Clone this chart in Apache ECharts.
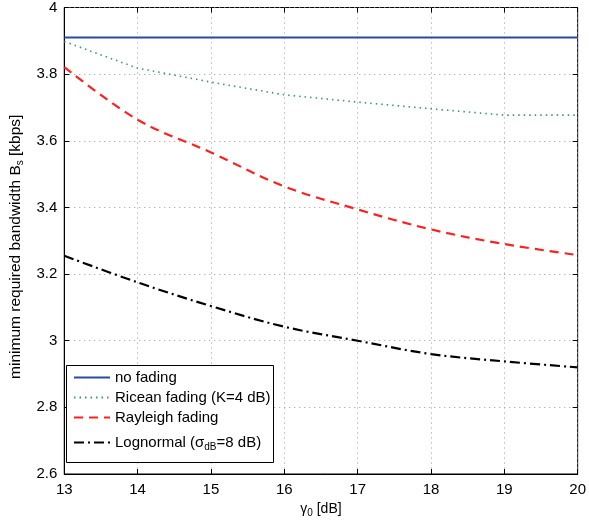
<!DOCTYPE html>
<html><head><meta charset="utf-8">
<script src="https://cdn.jsdelivr.net/npm/echarts@6/dist/echarts.min.js"></script>
<style>html,body{margin:0;padding:0;background:#fff}#c{width:589px;height:524px}</style>
</head><body><div id="c"></div>
<script>
const gammaDb = [13, 14, 15, 16, 17, 18, 19, 20];
const noFading = [3.91, 3.91, 3.91, 3.91, 3.91, 3.91, 3.91, 3.91];
const ricean = [3.898, 3.818, 3.776, 3.738, 3.716, 3.696, 3.677, 3.677];
const rayleigh = [3.821, 3.663, 3.565, 3.463, 3.394, 3.334, 3.29, 3.257];
const lognormal = [3.255, 3.175, 3.104, 3.042, 3.0, 2.96, 2.938, 2.92];
const seriesNames = ['no fading', 'Ricean fading (K=4 dB)', 'Rayleigh fading', 'Lognormal'];

const pairs = a => gammaDb.map((x, i) => [x, a[i]]);
const font = 'Liberation Sans, Arial, Helvetica, sans-serif';
const chart = echarts.init(document.getElementById('c'), null, {renderer: 'canvas'});
const gridLine = {show: true, lineStyle: {color: '#9a9a9a', type: [1, 4], width: 1}};
const legendText = {fontFamily: font, fontSize: 15, color: '#000',
  rich: {t: {fontFamily: font, fontSize: 15, color: '#000'}, sub: {fontFamily: font, fontSize: 10, color: '#000', padding: [9, 0, 0, 0]}}};
const legendCommon = {orient: 'vertical', left: 73, itemWidth: 36, itemHeight: 15, padding: 0, z: 5,
  itemStyle: {opacity: 0}, textStyle: legendText};
chart.setOption({
  animation: false,
  backgroundColor: '#fff',
  grid: {left: 59, right: 9, top: 5, bottom: 50, show: true, borderColor: '#000', borderWidth: 1},
  graphic: [{type: 'rect', z: 4, shape: {x: 66.5, y: 365.5, width: 207, height: 97}, style: {fill: '#fff', stroke: '#000', lineWidth: 1}}],
  xAxis: [{
    type: 'value', min: 13, max: 20, interval: 1,
    name: '{g|γ}{sub|0}{g| [dB]}', nameLocation: 'middle', nameGap: 26,
    nameTextStyle: {rich: {g: {fontFamily: font, fontSize: 14, color: '#000'}, sub: {fontFamily: font, fontSize: 10, color: '#000', verticalAlign: 'bottom', padding: [8, 0, 0, 0]}}},
    axisLine: {lineStyle: {color: '#000', width: 1}},
    axisTick: {inside: true, length: 5, lineStyle: {color: '#000'}},
    axisLabel: {color: '#000', fontFamily: font, fontSize: 15, margin: 8},
    splitLine: gridLine
  }, {
    type: 'value', position: 'top', min: 13, max: 20, interval: 1,
    axisLine: {show: false}, axisLabel: {show: false}, splitLine: {show: false},
    axisTick: {inside: true, length: 5, lineStyle: {color: '#000'}}
  }],
  yAxis: [{
    type: 'value', min: 2.6, max: 4, interval: 0.2,
    name: '{t|minimum required bandwidth B}{sub|s}{t| [kbps]}', nameLocation: 'middle', nameGap: 38,
    nameTextStyle: {padding: [0, 12, 0, 0], rich: {t: {fontFamily: font, fontSize: 15.5, color: '#000'}, sub: {fontFamily: font, fontSize: 10, color: '#000', padding: [9, 0, 0, 0]}}},
    axisLine: {lineStyle: {color: '#000', width: 1}},
    axisTick: {inside: true, length: 5, lineStyle: {color: '#000'}},
    axisLabel: {color: '#000', fontFamily: font, fontSize: 15, margin: 7, formatter: v => String(+v.toFixed(1))},
    splitLine: gridLine
  }, {
    type: 'value', position: 'right', min: 2.6, max: 4, interval: 0.2,
    axisLine: {show: false}, axisLabel: {show: false}, splitLine: {show: false},
    axisTick: {inside: true, length: 5, lineStyle: {color: '#000'}}
  }],
  legend: [
    Object.assign({}, legendCommon, {top: 370, itemGap: 5, data: seriesNames.slice(0, 3), formatter: n => '{t|' + n + '}'}),
    Object.assign({}, legendCommon, {top: 435, data: seriesNames.slice(3), formatter: () => '{t|Lognormal (σ}{sub|dB}{t|=8 dB)}'})
  ],
  series: [
    {name: seriesNames[0], type: 'line', data: pairs(noFading), showSymbol: false, symbol: 'none', color: '#2b4ba3', lineStyle: {color: '#2b4ba3', width: 2.2}},
    {name: seriesNames[1], type: 'line', data: pairs(ricean), showSymbol: false, symbol: 'none', color: '#3c9a6a', lineStyle: {color: '#3c9a6a', width: 1.6, type: [1.5, 4]}},
    {name: seriesNames[2], type: 'line', data: pairs(rayleigh), smooth: 0.35, showSymbol: false, symbol: 'none', color: '#ff2020', lineStyle: {color: '#ff2020', width: 2.2, type: [9, 6]}},
    {name: seriesNames[3], type: 'line', data: pairs(lognormal), smooth: 0.35, showSymbol: false, symbol: 'none', color: '#000', lineStyle: {color: '#000', width: 2.2, type: [10, 4, 2, 4]}}
  ]
});
</script></body></html>
